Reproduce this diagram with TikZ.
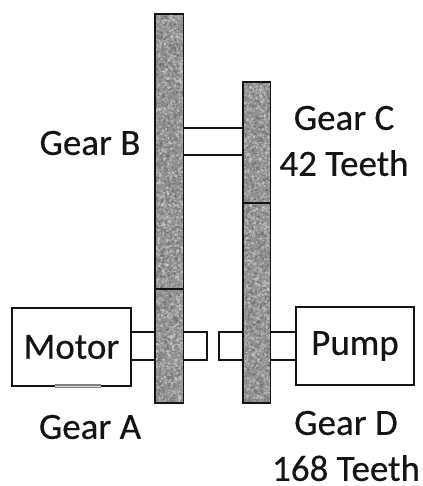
\documentclass[tikz,border=0pt]{standalone}
\usepackage{fontspec}
\newfontfamily\lblfont[FakeBold=0.4]{Carlito}
\usetikzlibrary{calc}
\definecolor{inkc}{gray}{0.08}
\tikzset{
  x=1pt,y=-1pt,
  gearbox/.style={draw=inkc,line width=1.8pt,inner sep=0pt,outer sep=0pt,anchor=north west},
  unitbox/.style={draw=inkc,line width=2.2pt,fill=white,inner sep=0pt,outer sep=0pt,anchor=north west,font=\lblfont\fontsize{37}{37}\selectfont,text=inkc},
  lbl/.style={font=\lblfont\fontsize{37}{46}\selectfont,text=inkc,align=center,inner sep=0pt},
  shaft/.style={draw=inkc,line width=2pt}
}
\newcommand{\speckle}[4]{%
  \begin{scope}
    \clip (#1,#2) rectangle ++(#3,#4);
    \fill[black!42] (#1,#2) rectangle ++(#3,#4);
    \pgfmathtruncatemacro{\nspk}{#3*#4/4}
    \foreach \i in {1,...,\nspk}{
      \pgfmathsetmacro{\px}{#1+rnd*#3}
      \pgfmathsetmacro{\py}{#2+rnd*#4}
      \pgfmathsetmacro{\pg}{rnd>0.5 ? 58 : 18}
      \pgfmathsetmacro{\pr}{0.6+rnd*0.9}
      \fill[black!\pg!white,opacity=0.55] (\px,\py) circle[radius=\pr];
    }
  \end{scope}}
\begin{document}
\begin{tikzpicture}
\pgfmathsetseed{7}
\useasboundingbox[fill=white] (0,0) rectangle (422,486);
% textures
\speckle{155}{14}{28.5}{389}
\speckle{243}{82}{27.5}{321}
% gears
\node[gearbox,minimum width=28.5pt,minimum height=275pt] (gearB) at (155,14) {};
\node[gearbox,minimum width=28.5pt,minimum height=114pt] (gearA) at (155,289) {};
\node[gearbox,minimum width=27.5pt,minimum height=121pt] (gearC) at (243,82) {};
\node[gearbox,minimum width=27.5pt,minimum height=200pt] (gearD) at (243,203) {};
% units
\node[unitbox,minimum width=119pt,minimum height=78pt] (motor) at (12,308) {Motor};
\node[unitbox,minimum width=118pt,minimum height=78pt] (pump) at (296,307) {Pump};
\fill[gray!100] (55,383.8) rectangle (101,388.4);
\draw[white!70!gray,line width=0.9pt] (55,386.1) -- (101,386.1);
% shaft levels
\coordinate (s1) at (0,128);
\coordinate (s2) at (0,155);
\coordinate (s3) at (0,331.5);
\coordinate (s4) at (0,360);
\coordinate (endA) at (207,0);
\coordinate (endD) at (219,0);
% shafts
\draw[shaft] (gearB.east |- s1) -- (gearC.west |- s1);
\draw[shaft] (gearB.east |- s2) -- (gearC.west |- s2);
\draw[shaft] (motor.east |- s3) -- (gearA.west |- s3);
\draw[shaft] (motor.east |- s4) -- (gearA.west |- s4);
\draw[shaft] (gearA.east |- s3) -- (endA |- s3) -- (endA |- s4) -- (gearA.east |- s4);
\draw[shaft] (gearD.west |- s3) -- (endD |- s3) -- (endD |- s4) -- (gearD.west |- s4);
\draw[shaft] (gearD.east |- s3) -- (pump.west |- s3);
\draw[shaft] (gearD.east |- s4) -- (pump.west |- s4);
% labels
\node[lbl] (lb) at (90,143) {Gear B};
\node[lbl] (lc) at (344,141) {Gear C\\42 Teeth};
\node[lbl] (la) at (90,427) {Gear A};
\node[lbl] (ld) at (346,446) {Gear D\\168 Teeth};
\end{tikzpicture}
\end{document}
